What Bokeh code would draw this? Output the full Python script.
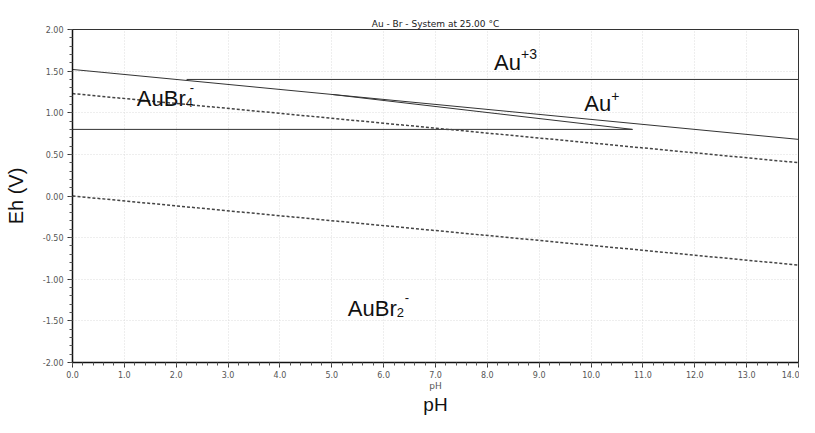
from bokeh.plotting import figure
from bokeh.models import LinearAxis, SingleIntervalTicker, FixedTicker, NumeralTickFormatter, Range1d
from bokeh.core.properties import value
from bokeh.embed import file_html
from bokeh.resources import INLINE

# ---- data ----
title_text = "Au - Br - System at 25.00 °C"

# solid boundaries (pH, Eh)
b1_ph = [0.0, 14.0]
b1_eh = [1.52, 0.68]
b2_ph = [2.2, 14.0]
b2_eh = [1.40, 1.40]
b3_ph = [5.0, 10.8]
b3_eh = [1.22, 0.80]
b4_ph = [0.0, 10.8]
b4_eh = [0.80, 0.80]

# water stability lines (dashed)
o2_ph = [0.0, 14.0]
o2_eh = [1.23, 0.40]
h2_ph = [0.0, 14.0]
h2_eh = [0.00, -0.83]

# species labels
sp_main = ["Au", "Au", "AuBr", "AuBr"]
sp_sup = ["+3", "+", "-", "-"]
sp_sub = ["", "", "4", "2"]
sp_ph = [8.13, 9.87, 1.24, 5.31]
sp_eh = [1.51, 1.01, 1.07, -1.45]

W, H = 799, 417
p = figure(width=W, height=H, output_backend="svg", toolbar_location=None,
           x_range=Range1d(0, 14), y_range=Range1d(-2, 2),
           min_border_left=72, min_border_right=1, min_border_top=29,
           min_border_bottom=44)

p.title.text = title_text
p.title.align = "center"
p.title.text_font = "DejaVu Sans"
p.title.text_font_size = "9px"
p.title.text_font_style = "normal"
p.title.text_color = "#222222"
p.title.offset = 0
p.title.standoff = 2

p.outline_line_color = "#333333"
p.outline_line_width = 1

for ax in (p.xaxis[0], p.yaxis[0]):
    ax.axis_line_color = "#111111"
    ax.axis_line_width = 1.5
    ax.major_tick_line_color = "#333333"
    ax.minor_tick_line_color = "#555555"
    ax.major_tick_out = 5
    ax.major_tick_in = 0
    ax.minor_tick_out = 3
    ax.minor_tick_in = 0
    ax.major_label_text_font = "DejaVu Sans"
    ax.major_label_text_font_size = "8px"
    ax.major_label_text_color = "#555555"
    ax.major_label_standoff = 4

p.xaxis[0].major_label_standoff = 3
p.xaxis[0].ticker = SingleIntervalTicker(interval=1, num_minor_ticks=5)
p.yaxis[0].ticker = SingleIntervalTicker(interval=0.5, num_minor_ticks=5)
p.xaxis[0].formatter = NumeralTickFormatter(format="0.0")
p.yaxis[0].formatter = NumeralTickFormatter(format="0.00")

p.xaxis[0].axis_label = "pH"
p.xaxis[0].axis_label_text_font = "DejaVu Sans"
p.xaxis[0].axis_label_text_font_size = "9px"
p.xaxis[0].axis_label_text_font_style = "normal"
p.xaxis[0].axis_label_text_color = "#555555"
p.xaxis[0].axis_label_text_line_height = 1.0
p.xaxis[0].axis_label_standoff = 0

p.yaxis[0].axis_label = "Eh (V)"
p.yaxis[0].axis_label_text_font = "Liberation Sans"
p.yaxis[0].axis_label_text_font_size = "20px"
p.yaxis[0].axis_label_text_font_style = "normal"
p.yaxis[0].axis_label_text_color = "#111111"
p.yaxis[0].axis_label_standoff = 13

# second (label-only) x axis carrying the large "pH"
ax2 = LinearAxis(axis_label="pH", axis_line_color=None, ticker=FixedTicker(ticks=[]),
                 major_tick_out=0, major_tick_in=0, minor_tick_out=0, minor_tick_in=0,
                 major_label_standoff=0, axis_label_standoff=0,
                 axis_label_text_font="Liberation Sans",
                 axis_label_text_font_size="19px",
                 axis_label_text_line_height=1.0,
                 axis_label_text_font_style="normal",
                 axis_label_text_color="#111111")
p.add_layout(ax2, "below")

p.xgrid.grid_line_color = "#dddddd"
p.ygrid.grid_line_color = "#dddddd"
p.xgrid.grid_line_dash = "1 2"
p.ygrid.grid_line_dash = "1 2"

# boundaries
for xs, ys in ((b1_ph, b1_eh), (b2_ph, b2_eh), (b3_ph, b3_eh), (b4_ph, b4_eh)):
    p.line(xs, ys, line_color="#333333", line_width=1)
for xs, ys in ((o2_ph, o2_eh), (h2_ph, h2_eh)):
    p.line(xs, ys, line_color="#444444", line_width=1.5, line_dash="3 2")

# species labels
main_w = {"Au": 27, "AuBr": 49}
dy = -8
for m, sup, sub, x, y in zip(sp_main, sp_sup, sp_sub, sp_ph, sp_eh):
    p.text(x=[x], y=[y], text=[m], y_offset=dy, text_font=value("Liberation Sans"),
           text_font_size="22px", text_color="#111111",
           text_baseline="alphabetic", text_align="left")
    w = main_w[m]
    if sub:
        p.text(x=[x], y=[y], text=[sub], x_offset=w, y_offset=dy + 4,
               text_font=value("Liberation Sans"), text_font_size="13px",
               text_color="#111111", text_baseline="alphabetic", text_align="left")
        p.text(x=[x], y=[y], text=[sup], x_offset=w + 4 + (4 if sub == "2" else 0), y_offset=dy - 11,
               text_font=value("Liberation Sans"), text_font_size="13px",
               text_color="#111111", text_baseline="alphabetic", text_align="left")
    else:
        p.text(x=[x], y=[y], text=[sup], x_offset=w, y_offset=dy - 8,
               text_font=value("Liberation Sans"), text_font_size="14px",
               text_color="#111111", text_baseline="alphabetic", text_align="left")

open("out.html", "w").write(file_html(p, INLINE))
